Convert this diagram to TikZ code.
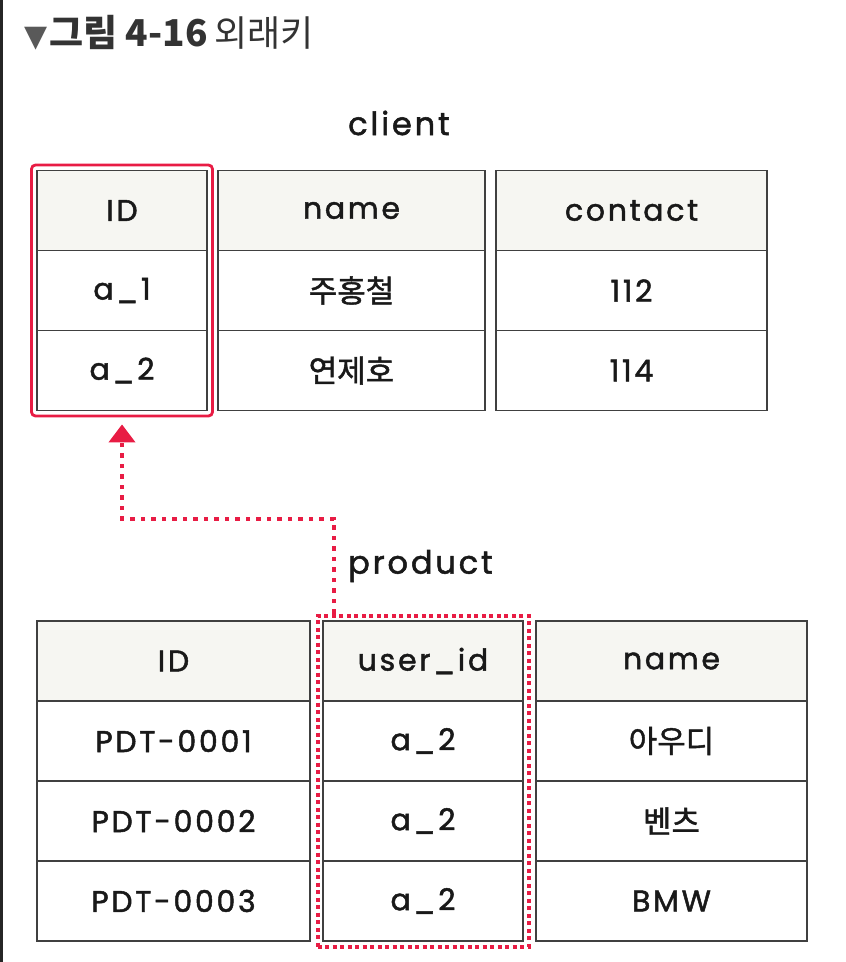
\documentclass[tikz,border=0pt]{standalone}
\usepackage{fontspec}
\usepackage{tikz}
\usetikzlibrary{arrows.meta,positioning,fit,calc}
\newfontfamily\mano[LetterSpace=9, FakeBold=1.6]{Poppins}
\newfontfamily\krfont[FakeBold=1.4]{Noto Sans CJK KR}
\newfontfamily\titlefont{Noto Sans CJK KR}
\newfontfamily\symfont{DejaVu Sans}
\newcommand\krtxt[1]{{\krfont\fontsize{31}{36}\selectfont #1}}
\definecolor{fkred}{RGB}{232,28,68}
\definecolor{hdrgray}{RGB}{246,246,242}
\tikzset{
  hdr/.style={rectangle, draw=black!75, fill=hdrgray, line width=1.6pt,
              minimum height=80pt, inner sep=0pt, outer sep=0pt,
              font=\mano\fontsize{30}{36}\selectfont, text=black!90},
  celda/.style={hdr, fill=white},
  tabla/.style={font=\mano\fontsize{32}{38}\selectfont, text=black!90, inner sep=0pt},
  pkbox/.style={draw=fkred, line width=2.8pt, rounded corners=4pt, inner sep=5.5pt},
  fkbox/.style={draw=fkred, line width=4pt, dash pattern=on 4pt off 3.5pt, inner sep=5.5pt},
  fk/.style={draw=fkred, line width=4pt, dash pattern=on 4.5pt off 6pt,
             -{Triangle[length=18pt,width=26pt]}, shorten >=7pt}
}
\begin{document}
\begin{tikzpicture}[x=1pt, y=-1pt, node distance=0pt]
  \useasboundingbox (0,0) rectangle (846,962);
  \draw[line width=2.5pt, black!85] (1.25,0) -- (1.25,962);
  % title
  \node[anchor=west, inner sep=0pt, text=black!80] (title) at (24,33)
    {{\symfont\fontsize{30}{32}\selectfont\color{black!65}▼}\hspace{2pt}{\titlefont\fontsize{37}{42}\selectfont\bfseries 그림 4-16}\ \ {\titlefont\fontsize{36}{42}\selectfont 외래키}};
  % client
  \node[tabla] (client) at (399,123) {client};
  \node[hdr, minimum width=170pt] (cid) at (122,210.5) {ID};
  \node[celda, minimum width=170pt, below=of cid] (cid1) {a\_1};
  \node[celda, minimum width=170pt, below=of cid1] (cid2) {a\_2};
  \node[hdr, minimum width=267pt] (cname) at (351.5,210.5) {name};
  \node[celda, minimum width=267pt, below=of cname] (cname1) {\krtxt{주홍철}};
  \node[celda, minimum width=267pt, below=of cname1] (cname2) {\krtxt{연제호}};
  \node[hdr, minimum width=271pt] (ccon) at (631.5,210.5) {contact};
  \node[celda, minimum width=271pt, below=of ccon] (ccon1) {112};
  \node[celda, minimum width=271pt, below=of ccon1] (ccon2) {114};
  \node[pkbox, fit=(cid)(cid2)] (pk) {};
  % product
  \node[tabla, anchor=west] (product) at (348,566) {product};
  \node[hdr, minimum width=273pt] (pid) at (173.5,661) {ID};
  \node[celda, minimum width=273pt, below=of pid] (pid1) {PDT-0001};
  \node[celda, minimum width=273pt, below=of pid1] (pid2) {PDT-0002};
  \node[celda, minimum width=273pt, below=of pid2] (pid3) {PDT-0003};
  \node[hdr, minimum width=200pt] (puid) at (423,661) {user\_id};
  \node[celda, minimum width=200pt, below=of puid] (puid1) {a\_2};
  \node[celda, minimum width=200pt, below=of puid1] (puid2) {a\_2};
  \node[celda, minimum width=200pt, below=of puid2] (puid3) {a\_2};
  \node[hdr, minimum width=271pt] (pname) at (671.5,661) {name};
  \node[celda, minimum width=271pt, below=of pname] (pname1) {\krtxt{아우디}};
  \node[celda, minimum width=271pt, below=of pname1] (pname2) {\krtxt{벤츠}};
  \node[celda, minimum width=271pt, below=of pname2] (pname3) {BMW};
  \node[fkbox, fit=(puid)(puid3)] (fkcol) {};
  % foreign key
  \draw[fk] ([xshift=18pt]fkcol.north west) -- ++(0,-95) -| (pk.south);
\end{tikzpicture}
\end{document}
